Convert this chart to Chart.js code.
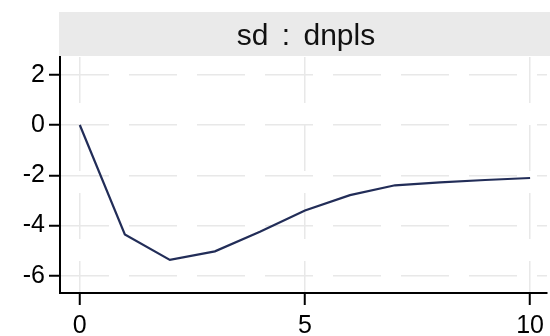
<!DOCTYPE html>
<html>
<head>
<meta charset="utf-8">
<script src="https://cdn.jsdelivr.net/npm/chart.js@4/dist/chart.umd.min.js"></script>
<style>
    html, body { margin: 0; padding: 0; background: #fff; overflow: hidden; }
    #wrap { width: 550px; height: 336px; }
</style>
</head>
<body>
<div id="wrap"><canvas id="irfChart" width="550" height="336"></canvas></div>
<script>
// impulse response: sd : dnpls
const panelTitle = "sd : dnpls";
const steps = [0, 1, 2, 3, 4, 5, 6, 7, 8, 9, 10];
const response = [0, -4.36, -5.37, -5.03, -4.25, -3.40, -2.79, -2.40, -2.28, -2.19, -2.11];
const xTicks = [0, 5, 10];
const yTicks = [2, 0, -2, -4, -6];

const FONT = '"Liberation Sans", Arial, Helvetica, sans-serif';

// grey header band with the panel title
const headerBand = {
    id: 'headerBand',
    beforeDraw(chart) 
    {
        const ctx = chart.ctx;
        const area = chart.chartArea;
        ctx.save();
        ctx.fillStyle = '#fff';
        ctx.fillRect(0, 0, chart.width, chart.height);
        ctx.fillStyle = '#eaeaea';
        ctx.fillRect(area.left - 1, 12, chart.width - area.left + 1, 44);
        ctx.fillStyle = '#111';
        ctx.font = '30px ' + FONT;
        ctx.textAlign = 'center';
        ctx.textBaseline = 'alphabetic';
        if ('wordSpacing' in ctx) ctx.wordSpacing = '5px';
        ctx.fillText(panelTitle, (area.left + chart.width) / 2 + 1, 45);
        ctx.restore();
    }
};

const ctx = document.getElementById('irfChart').getContext('2d');

new Chart(ctx, {
    type: 'line',
    data: {
        datasets: [{
            label: panelTitle,
            data: steps.map((s, i) => ({ x: s, y: response[i] })),
            borderColor: '#222d58',
            borderWidth: 2.2,
            pointRadius: 0,
            tension: 0,
            fill: false
        }]
    },
    options: {
        responsive: false,
        animation: false,
        devicePixelRatio: 1,
        layout: { padding: { top: 57, left: 0, right: 0, bottom: 0 } },
        plugins: {
            legend: { display: false },
            title: { display: false },
            tooltip: { enabled: false }
        },
        scales: {
            x: {
                type: 'linear',
                min: -0.44,
                max: 10.375,
                afterBuildTicks: (scale) => { scale.ticks = xTicks.map(v => ({ value: v })); },
                afterFit: (scale) => { scale.height = 43; },
                grid: {
                    color: '#e8e8e8',
                    lineWidth: 1.5,
                    tickColor: '#000',
                    tickLength: 12,
                    tickWidth: 2
                },
                border: { color: '#000', width: 2, dash: [46, 22] },
                ticks: {
                    color: '#000',
                    padding: 6,
                    maxRotation: 0,
                    font: { family: FONT, size: 25 }
                }
            },
            y: {
                type: 'linear',
                min: -6.69,
                max: 2.71,
                afterBuildTicks: (scale) => { scale.ticks = yTicks.map(v => ({ value: v })); },
                afterFit: (scale) => { scale.width = 60; },
                grid: {
                    color: '#e8e8e8',
                    lineWidth: 1.5,
                    tickColor: '#000',
                    tickLength: 11,
                    tickWidth: 2
                },
                border: { color: '#000', width: 2, dash: [48, 20] },
                ticks: {
                    color: '#000',
                    padding: 4,
                    font: { family: FONT, size: 25 }
                }
            }
        }
    },
    plugins: [headerBand]
});
</script>
</body>
</html>
